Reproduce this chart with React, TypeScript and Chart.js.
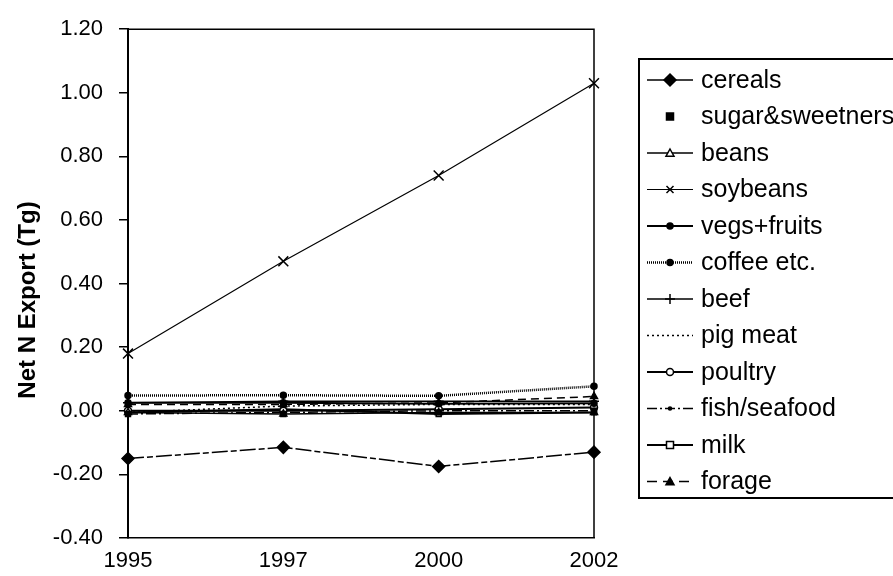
import { useEffect, useRef } from 'react';
import { Chart, registerables } from 'chart.js';

Chart.register(...registerables);

const years = ['1995', '1997', '2000', '2002'];
const seriesNames = [
  'cereals', 'sugar&sweetners', 'beans', 'soybeans', 'vegs+fruits', 'coffee etc.',
  'beef', 'pig meat', 'poultry', 'fish/seafood', 'milk', 'forage',
];
const cereals = [-0.15, -0.115, -0.175, -0.13];
const sugar = [-0.01, -0.01, -0.005, 0.0];
const beans = [-0.005, -0.01, -0.005, -0.005];
const soybeans = [0.18, 0.47, 0.74, 1.03];
const vegsFruits = [0.025, 0.025, 0.022, 0.024];
const coffee = [0.048, 0.049, 0.047, 0.077];
const beef = [0.025, 0.03, 0.03, 0.03];
const pigMeat = [-0.005, 0.015, 0.02, 0.02];
const poultry = [0.0, 0.0, 0.005, 0.01];
const fish = [-0.01, -0.005, 0.0, 0.0];
const milk = [-0.005, 0.005, -0.01, -0.005];
const forage = [0.02, 0.02, 0.025, 0.045];
const seriesValues = [cereals, sugar, beans, soybeans, vegsFruits, coffee, beef, pigMeat, poultry, fish, milk, forage];

const yMin = -0.4;
const yMax = 1.2;
const yStep = 0.2;
const yTitle = 'Net N Export (Tg)';

type Style = {
  point: string; radius: number; fill: string; width: number; dash: number[];
  legendDash: number[]; showLine: boolean;
};
const styles: Style[] = [
  { point: 'rectRot', radius: 6, fill: '#000', width: 1.5, dash: [16, 3, 6, 3], legendDash: [], showLine: true },
  { point: 'rect', radius: 3.5, fill: '#000', width: 1.5, dash: [], legendDash: [], showLine: false },
  { point: 'triangle', radius: 4, fill: '#fff', width: 1.5, dash: [], legendDash: [], showLine: true },
  { point: 'crossRot', radius: 7, fill: '#000', width: 1.2, dash: [], legendDash: [], showLine: true },
  { point: 'circle', radius: 3, fill: '#000', width: 2, dash: [], legendDash: [], showLine: true },
  { point: 'circle', radius: 3, fill: '#000', width: 2.5, dash: [1, 1], legendDash: [1, 1], showLine: true },
  { point: 'cross', radius: 5, fill: '#000', width: 1.5, dash: [], legendDash: [], showLine: true },
  { point: 'none', radius: 0, fill: '#000', width: 1.5, dash: [2, 3], legendDash: [2, 3], showLine: true },
  { point: 'circle', radius: 3.5, fill: '#fff', width: 2, dash: [], legendDash: [], showLine: true },
  { point: 'circle', radius: 1.5, fill: '#000', width: 1.5, dash: [10, 3, 2, 3], legendDash: [10, 3, 2, 3], showLine: true },
  { point: 'rect', radius: 3.5, fill: '#fff', width: 2, dash: [], legendDash: [], showLine: true },
  { point: 'triangle', radius: 4, fill: '#000', width: 1.5, dash: [8, 5], legendDash: [10, 6], showLine: true },
];

const FONT = '"Liberation Sans", Arial, sans-serif';

function drawMarker(ctx: CanvasRenderingContext2D, style: string, x: number, y: number, r: number, fill: string) {
  if (style === 'none' || r <= 0) return;
  ctx.save();
  ctx.setLineDash([]);
  ctx.lineWidth = 1.5;
  ctx.strokeStyle = '#000';
  ctx.fillStyle = fill;
  ctx.beginPath();
  if (style === 'rectRot') {
    ctx.moveTo(x, y - r); ctx.lineTo(x + r, y); ctx.lineTo(x, y + r); ctx.lineTo(x - r, y); ctx.closePath();
    ctx.fill(); ctx.stroke();
  } else if (style === 'rect') {
    ctx.rect(x - r, y - r, 2 * r, 2 * r); ctx.fill(); ctx.stroke();
  } else if (style === 'triangle') {
    ctx.moveTo(x, y - r); ctx.lineTo(x + r, y + r * 0.8); ctx.lineTo(x - r, y + r * 0.8); ctx.closePath();
    ctx.fill(); ctx.stroke();
  } else if (style === 'circle') {
    ctx.arc(x, y, r, 0, Math.PI * 2); ctx.fill(); ctx.stroke();
  } else if (style === 'crossRot') {
    const d = r * 0.7;
    ctx.moveTo(x - d, y - d); ctx.lineTo(x + d, y + d); ctx.moveTo(x + d, y - d); ctx.lineTo(x - d, y + d); ctx.stroke();
  } else if (style === 'cross') {
    ctx.moveTo(x, y - r); ctx.lineTo(x, y + r); ctx.moveTo(x - r, y); ctx.lineTo(x + r, y); ctx.stroke();
  }
  ctx.restore();
}

const framePlugin = {
  id: 'frame',
  beforeDatasetsDraw(chart: any) {
    const { ctx, chartArea } = chart;
    ctx.save();
    ctx.strokeStyle = '#000';
    ctx.lineWidth = 1.5;
    ctx.beginPath();
    ctx.moveTo(chartArea.left, chartArea.top);
    ctx.lineTo(chartArea.right, chartArea.top);
    ctx.lineTo(chartArea.right, chartArea.bottom);
    ctx.stroke();
    ctx.restore();
  },
  afterDraw(chart: any) {
    const { ctx } = chart;
    // y-axis title
    ctx.save();
    ctx.translate(28, 300);
    ctx.rotate(-Math.PI / 2);
    ctx.font = `bold 24px ${FONT}`;
    ctx.fillStyle = '#000';
    ctx.textAlign = 'center';
    ctx.textBaseline = 'middle';
    ctx.fillText(yTitle, 0, 0);
    ctx.restore();
    // legend
    const left = 639, top = 59, bottom = 498;
    ctx.save();
    ctx.strokeStyle = '#000';
    ctx.lineWidth = 2;
    ctx.strokeRect(left, top, 300, bottom - top);
    ctx.font = `25px ${FONT}`;
    ctx.textBaseline = 'middle';
    ctx.textAlign = 'left';
    ctx.fillStyle = '#000';
    seriesNames.forEach((name, i) => {
      const st = styles[i];
      const y = 80 + i * 36.5;
      if (st.showLine) {
        ctx.save();
        ctx.lineWidth = st.width;
        ctx.setLineDash(st.legendDash);
        ctx.beginPath();
        ctx.moveTo(647, y);
        ctx.lineTo(693, y);
        ctx.stroke();
        ctx.restore();
      }
      drawMarker(ctx, st.point, 670, y, st.point === 'crossRot' ? 5 : st.radius, st.fill);
      ctx.fillText(name, 701, y + 1);
    });
    ctx.restore();
  },
};

export default function App() {
  const ref = useRef<HTMLCanvasElement | null>(null);
  useEffect(() => {
    document.body.style.margin = '0';
    if (!ref.current) return;
    const datasets = seriesNames.map((name, i) => {
      const st = styles[i];
      return {
        label: name,
        data: seriesValues[i],
        borderColor: '#000',
        borderWidth: st.width,
        borderDash: st.dash,
        showLine: st.showLine,
        pointStyle: st.point === 'none' ? false : st.point,
        pointRadius: st.radius,
        pointBackgroundColor: st.fill,
        pointBorderColor: '#000',
        pointBorderWidth: 1.5,
        fill: false,
        tension: 0,
        clip: false,
      };
    });
    const chart = new Chart(ref.current, {
      type: 'line',
      data: { labels: years, datasets: datasets as any },
      options: {
        animation: false,
        responsive: false,
        maintainAspectRatio: false,
        layout: { padding: { top: 20, right: 299, bottom: 0, left: 0 } },
        plugins: { legend: { display: false }, tooltip: { enabled: false } },
        scales: {
          x: {
            type: 'category',
            offset: false,
            grid: { display: false, drawTicks: false },
            border: { display: true, color: '#000', width: 1.5 },
            ticks: { color: '#000', font: { family: FONT, size: 22 }, padding: 10, maxRotation: 0, autoSkip: false },
            afterFit: (s: any) => { s.height = 38; },
          },
          y: {
            min: yMin,
            max: yMax,
            grid: { display: true, drawOnChartArea: false, drawTicks: true, tickLength: 9, color: '#000', lineWidth: 1.5 },
            border: { display: true, color: '#000', width: 2 },
            ticks: {
              stepSize: yStep,
              color: '#000',
              font: { family: FONT, size: 22 },
              padding: 16,
              callback: (v: any) => (Math.abs(Number(v)) < 1e-9 ? '0.00' : Number(v).toFixed(2)),
            },
            afterFit: (s: any) => { s.width = 128; },
          },
        },
      },
      plugins: [framePlugin],
    });
    return () => chart.destroy();
  }, []);
  return (
    <div style={{ width: 893, height: 576 }}>
      <canvas ref={ref} width={893} height={576} style={{ display: 'block' }} />
    </div>
  );
}
